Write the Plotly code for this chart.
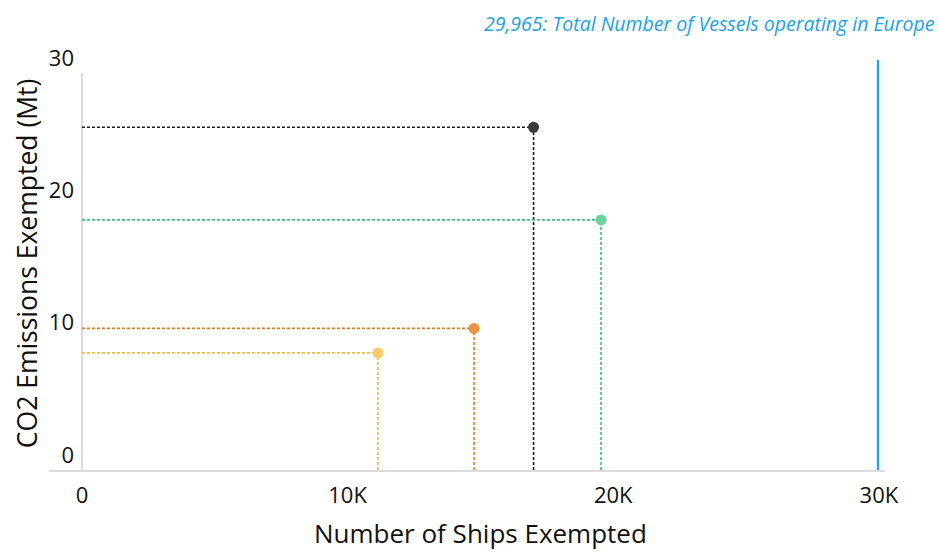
import plotly.graph_objects as go

# Exemption scenarios: ships exempted vs CO2 emissions exempted
ships_exempted = [17000, 19540, 14760, 11140]
co2_exempted = [25.9, 18.9, 10.7, 8.85]
line_colors = ["#1a1a1a", "#3cc07e", "#e07b24", "#f0bb3e"]
dot_colors = ["#3a3a3a", "#6dd39d", "#eb9447", "#f5cd6c"]

total_vessels = 29965
total_label = "29,965: Total Number of Vessels operating in Europe"

x_tickvals = [0, 10000, 20000, 30000]
x_ticktext = ["0", "10K", "20K", "30K"]
y_tickvals = [0, 10, 20, 30]

x_title = "Number of Ships Exempted"
y_title = "CO2 Emissions Exempted (Mt)"

FONT = "Open Sans, Noto Sans, sans-serif"

fig = go.Figure()

for x, y, lc, dc in zip(ships_exempted, co2_exempted, line_colors, dot_colors):
    # horizontal guide from the y-axis to the point
    fig.add_trace(go.Scatter(
        x=[0, x], y=[y, y], mode="lines",
        line=dict(color=lc, width=1.6, dash="3px,2px"),
        hoverinfo="skip", showlegend=False,
    ))
    # vertical guide from the x-axis to the point
    fig.add_trace(go.Scatter(
        x=[x, x], y=[0, y], mode="lines",
        line=dict(color=lc, width=1.6, dash="3px,2px"),
        hoverinfo="skip", showlegend=False,
    ))
    fig.add_trace(go.Scatter(
        x=[x], y=[y], mode="markers",
        marker=dict(color=dc, size=11),
        showlegend=False,
    ))

# total fleet reference line
fig.add_shape(
    type="line", xref="x", yref="paper",
    x0=total_vessels, x1=total_vessels, y0=0, y1=1.033,
    line=dict(color="#1aa3e6", width=2.2),
)

fig.add_annotation(
    text=total_label, xref="paper", yref="paper",
    x=1.062, y=1.125, xanchor="right", yanchor="middle",
    showarrow=False,
    font=dict(family=FONT, size=19.5, color="#1aa3e6", style="italic"),
)

# axis titles
fig.add_annotation(
    text=x_title, xref="paper", yref="paper",
    x=0.5156, y=-0.158, xanchor="center", yanchor="middle",
    showarrow=False, font=dict(family=FONT, size=26, color="#111"),
)
fig.add_annotation(
    text=y_title, xref="paper", yref="paper", textangle=-90,
    x=-0.0263, y=0.521, xanchor="center", yanchor="middle",
    showarrow=False, font=dict(family=FONT, size=26.5, color="#111"),
)

fig.update_layout(
    width=939, height=553,
    margin=dict(l=49, r=54, t=73, b=83),
    plot_bgcolor="white", paper_bgcolor="white",
    font=dict(family=FONT, color="#111"),
    xaxis=dict(
        range=[-1240, 30230], automargin=False,
        tickvals=x_tickvals, ticktext=x_ticktext,
        tickfont=dict(size=22, color="#111"), ticks="", ticklen=0,
        ticklabelstandoff=5,
        showgrid=False, zeroline=True, zerolinecolor="#dcdcdc", zerolinewidth=1.5,
        showline=True, linecolor="#dcdcdc", linewidth=1.5,
    ),
    yaxis=dict(
        range=[0, 30], automargin=False,
        tickvals=y_tickvals,
        tickfont=dict(size=22, color="#111"), ticks="",
        ticklabelposition="outside", ticklabelshift=-15, ticklabelstandoff=-26,
        showgrid=False, zeroline=False, showline=False,
    ),
)

fig.write_html("out.html")
